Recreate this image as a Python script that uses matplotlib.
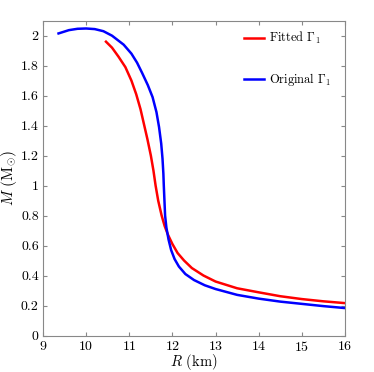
import numpy as np
import matplotlib
matplotlib.use('Agg')
import matplotlib.pyplot as plt

# curva original (azul)
r_orig = [9.36, 9.6, 9.8, 10.0, 10.2, 10.4, 10.6, 10.87, 11.05, 11.18, 11.3, 11.43, 11.54,
          11.63, 11.69, 11.74, 11.77, 11.79, 11.80, 11.815, 11.83, 11.86, 11.91, 11.97, 12.05,
          12.15, 12.3, 12.5, 12.75, 13.0, 13.5, 14.0, 14.5, 15.0, 15.5, 16.0]
m_orig = [2.015, 2.037, 2.046, 2.048, 2.044, 2.03, 2.00, 1.94, 1.88, 1.82, 1.75, 1.67, 1.59,
          1.49, 1.39, 1.28, 1.18, 1.08, 1.00, 0.90, 0.80, 0.72, 0.64, 0.57, 0.51,
          0.46, 0.41, 0.37, 0.335, 0.31, 0.271, 0.246, 0.226, 0.211, 0.196, 0.183]

# curva ajustada (vermelha)
r_fit = [10.46, 10.6, 10.75, 10.91, 11.05, 11.16, 11.26, 11.34, 11.42, 11.50, 11.56, 11.61,
         11.67, 11.75, 11.82, 11.90, 12.0, 12.12, 12.27, 12.45, 12.72, 13.0, 13.5, 14.0,
         14.5, 15.0, 15.5, 16.0]
m_fit = [1.96, 1.92, 1.86, 1.79, 1.70, 1.61, 1.51, 1.41, 1.31, 1.20, 1.10, 1.00,
         0.90, 0.80, 0.73, 0.67, 0.61, 0.55, 0.50, 0.45, 0.40, 0.36, 0.315, 0.288,
         0.262, 0.243, 0.228, 0.216]

plt.rcParams['font.family'] = 'serif'
plt.rcParams['font.serif'] = ['cmr10', 'DejaVu Serif']
plt.rcParams['mathtext.fontset'] = 'cm'
plt.rcParams['axes.formatter.use_mathtext'] = True

fig = plt.figure(figsize=(3.74, 3.72), dpi=100)
ax = fig.add_axes([43/374, 1 - 335.5/372, (345 - 43)/374, (335.5 - 20.7)/372])

ax.plot(r_fit, m_fit, 'r-', lw=1.8, solid_joinstyle='round', label=r'Fitted $\Gamma_1$')
ax.plot(r_orig, m_orig, 'b-', lw=1.8, solid_joinstyle='round', label=r'Original $\Gamma_1$')

ax.set_xlim(9, 16)
ax.set_ylim(0, 2.1)
ax.set_xticks(np.arange(9, 17, 1))
ax.set_yticks(np.arange(0, 2.01, 0.2))
ax.set_yticklabels(['0', '0.2', '0.4', '0.6', '0.8', '1', '1.2', '1.4', '1.6', '1.8', '2'])
ax.tick_params(direction='in', top=True, right=True, labelsize=10, color='#888888',
               length=3, pad=3)
for s in ax.spines.values():
    s.set_color('#888888')
    s.set_linewidth(0.8)

ax.set_xlabel(r'$R$ (km)', fontsize=10.5, labelpad=-1.5)
ax.set_ylabel(r'$M$ (M$_{\odot}$)', fontsize=11, labelpad=1)

ax.legend(loc='upper left', bbox_to_anchor=(0.665, 0.97), frameon=False, fontsize=9,
          handlelength=1.6, handletextpad=0.4, labelspacing=2.0,
          borderaxespad=0, borderpad=0)

plt.savefig('out.png', dpi=100)
